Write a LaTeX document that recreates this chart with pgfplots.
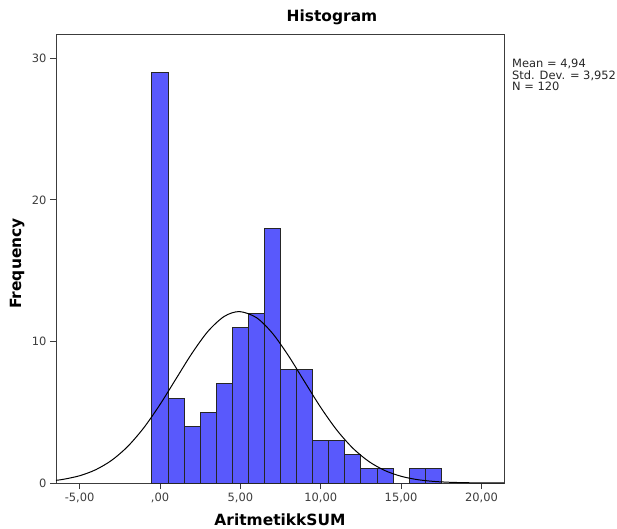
\documentclass[border=0pt]{standalone}
\usepackage{fontspec}
\setmainfont{DejaVu Sans}
\usepackage{pgfplots}
\pgfplotsset{compat=1.18}
\definecolor{barblue}{RGB}{89,89,252}
\definecolor{axgray}{RGB}{60,60,60}
\begin{document}
\begin{tikzpicture}
\begin{axis}[
  name=ax,
  scale only axis,
  width=448bp, height=448bp,
  xmin=-6.47, xmax=21.4,
  ymin=0, ymax=31.66,
  axis line style={axgray, line width=1pt},
  tick align=outside,
  tick pos=left,
  major tick length=6bp,
  tick style={axgray, line width=1pt},
  xtick={-5,0,5,10,15,20},
  xticklabels={{-5,00}, {,00}, {5,00}, {10,00}, {15,00}, {20,00}},
  ytick={0,10,20,30},
  yticklabels={0,10,20,30},
  ticklabel style={font=\fontsize{11.5}{13}\selectfont, text=axgray},
  /pgf/number format/assume math mode=true,
  xlabel={AritmetikkSUM},
  ylabel={Frequency},
  xlabel style={font=\bfseries\fontsize{15.5}{18}\selectfont, at={(axis description cs:0.5,0)}, anchor=base, yshift=-42.5bp},
  ylabel style={font=\bfseries\fontsize{15.5}{18}\selectfont, at={(axis description cs:0,0.49)}, anchor=base, rotate=0, yshift=35bp},
  title={Histogram},
  title style={font=\bfseries\fontsize{15.5}{18}\selectfont, at={(axis description cs:0.616,1)}, anchor=base, yshift=7.5bp},
  clip=false,
]
\addplot[ybar interval, fill=barblue, draw=black!85, line width=1pt] coordinates {
(-0.5,29) (0.5,6) (1.5,4) (2.5,5) (3.5,7) (4.5,11) (5.5,12) (6.5,18) (7.5,8) (8.5,8)
(9.5,3) (10.5,3) (11.5,2) (12.5,1) (13.5,1) (14.5,0) (15.5,1) (16.5,1) (17.5,1)
};
\addplot[black, line width=1pt, smooth] coordinates {
(-6.47,0.188) (-6,0.263) (-5,0.512) (-4,0.938) (-3,1.610) (-2,2.592) (-1,3.915)
(0,5.547) (1,7.370) (2,9.185) (3,10.739) (4,11.776) (4.94,12.114) (6,11.686)
(7,10.575) (8,8.976) (9,7.147) (10,5.337) (11,3.739) (12,2.457) (13,1.514)
(14,0.875) (15,0.475) (16,0.241) (17,0.115) (18,0.052) (19,0.022) (20,0.009)
(21,0.003) (21.4,0.002)
};
\end{axis}
\node[anchor=north west, align=left, inner sep=0pt, font=\fontsize{11.5}{11.5}\selectfont, text=black!85]
  at ([xshift=8bp,yshift=-24bp]ax.north east) {Mean = 4,94\\Std. Dev. = 3,952\\N = 120};
\pgfresetboundingbox
\path[use as bounding box] ([xshift=-56bp,yshift=-46bp]ax.south west) rectangle ([xshift=113bp,yshift=35bp]ax.north east);
\end{tikzpicture}
\end{document}
